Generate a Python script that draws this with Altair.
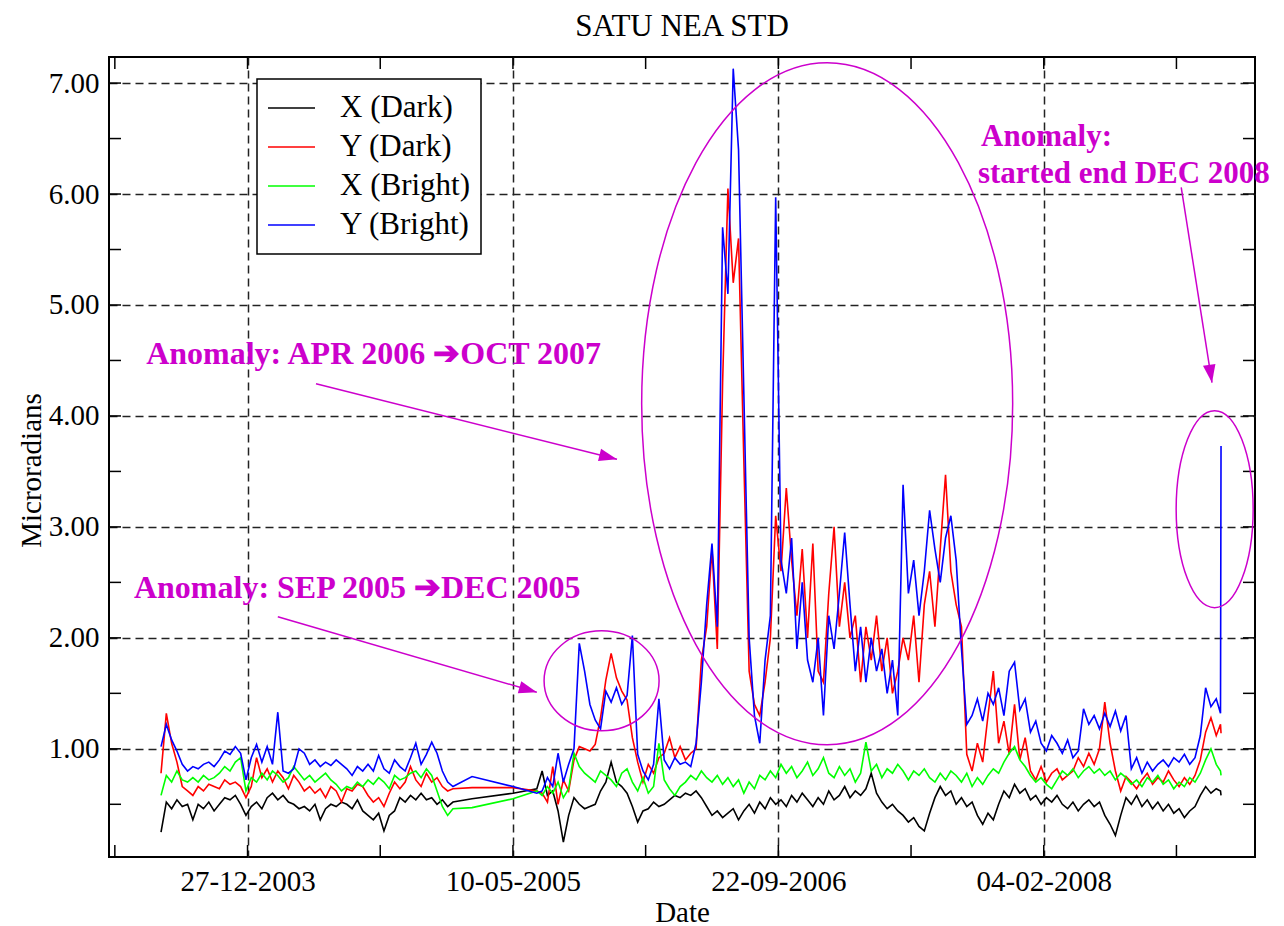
import altair as alt
import pandas as pd

# ---------------------------------------------------------------- data
BASE_DATE = "2003-12-27"          # day 0 of the sampling grid
# sample days (offset from 27-12-2003): 10-day sampling, data gap early 2005
DAYS = (list(range(-163, 388, 10)) + [423, 500]
        + list(range(545, 1826, 10)) + [1833, 1834])

SERIES = ["X (Dark)", "Y (Dark)", "X (Bright)", "Y (Bright)"]
COLORS = ["#000000", "#ff0000", "#00ff00", "#0000ff"]

X_DARK = [
    0.25, 0.52, 0.46, 0.54, 0.48, 0.50, 0.36, 0.50, 0.46, 0.52,
    0.44, 0.50, 0.56, 0.54, 0.58, 0.50, 0.40, 0.48, 0.52, 0.46,
    0.56, 0.60, 0.54, 0.58, 0.52, 0.50, 0.46, 0.48, 0.44, 0.50,
    0.36, 0.46, 0.50, 0.48, 0.52, 0.50, 0.46, 0.54, 0.44, 0.40,
    0.36, 0.42, 0.26, 0.40, 0.44, 0.56, 0.52, 0.58, 0.54, 0.60,
    0.54, 0.56, 0.50, 0.54, 0.48, 0.52,
    0.55, 0.60,
    0.64, 0.80, 0.58, 0.62, 0.44, 0.16, 0.40, 0.56, 0.50, 0.46,
    0.48, 0.50, 0.62, 0.70, 0.88, 0.70, 0.66, 0.60, 0.48, 0.34,
    0.44, 0.46, 0.52, 0.48, 0.50, 0.54, 0.58, 0.56, 0.60, 0.58,
    0.62, 0.56, 0.48, 0.40, 0.44, 0.38, 0.42, 0.46, 0.36, 0.44,
    0.50, 0.42, 0.52, 0.46, 0.56, 0.50, 0.54, 0.48, 0.58, 0.52,
    0.60, 0.54, 0.48, 0.56, 0.50, 0.62, 0.54, 0.58, 0.66, 0.56,
    0.62, 0.58, 0.64, 0.78, 0.60, 0.52, 0.46, 0.50, 0.44, 0.40,
    0.34, 0.38, 0.30, 0.26, 0.42, 0.56, 0.66, 0.58, 0.62, 0.50,
    0.56, 0.48, 0.52, 0.40, 0.32, 0.42, 0.36, 0.50, 0.62, 0.56,
    0.68, 0.60, 0.64, 0.54, 0.58, 0.50, 0.56, 0.52, 0.58, 0.50,
    0.46, 0.52, 0.44, 0.50, 0.54, 0.48, 0.52, 0.40, 0.32, 0.22,
    0.40, 0.56, 0.50, 0.58, 0.48, 0.54, 0.46, 0.52, 0.44, 0.50,
    0.42, 0.46, 0.38, 0.44, 0.48, 0.58, 0.66, 0.60, 0.64,
    0.62, 0.58,
]

Y_DARK = [
    0.78, 1.32, 1.05, 0.88, 0.66, 0.62, 0.58, 0.66, 0.62, 0.68,
    0.66, 0.64, 0.72, 0.68, 0.70, 0.66, 0.56, 0.66, 0.92, 0.74,
    0.82, 0.70, 0.80, 0.74, 0.64, 0.76, 0.70, 0.62, 0.66, 0.60,
    0.64, 0.56, 0.66, 0.62, 0.52, 0.64, 0.62, 0.68, 0.66, 0.58,
    0.52, 0.56, 0.48, 0.60, 0.70, 0.64, 0.70, 0.84, 0.72, 0.66,
    0.78, 0.70, 0.74, 0.66, 0.62, 0.64,
    0.65, 0.65,
    0.62, 0.60, 0.52, 0.84, 0.50, 0.72, 0.62, 0.90, 1.02, 1.00,
    0.98, 1.04, 1.28, 1.62, 1.86, 1.64, 1.52, 1.44, 1.10, 0.88,
    0.70, 0.86, 0.78, 0.92, 0.96, 1.10, 0.92, 1.02, 0.90, 0.96,
    1.00, 1.80, 2.10, 2.80, 1.90, 4.30, 6.05, 5.20, 5.60, 3.60,
    1.70, 1.40, 1.30, 1.60, 2.00, 3.10, 2.60, 3.35, 2.70, 2.20,
    2.80, 2.00, 2.85, 1.70, 1.60, 2.40, 3.00, 2.10, 2.50, 2.00,
    2.20, 1.60, 2.10, 1.80, 2.20, 1.70, 2.00, 1.50, 1.70, 2.00,
    1.80, 2.20, 1.60, 2.30, 2.60, 2.10, 2.80, 3.47, 2.60, 2.30,
    2.10, 0.95, 0.80, 1.05, 0.88, 1.30, 1.70, 1.05, 1.25, 0.95,
    1.40, 0.90, 1.10, 0.80, 0.72, 0.84, 0.70, 0.78, 0.82, 0.72,
    0.76, 0.80, 0.92, 0.84, 0.96, 0.86, 1.00, 1.42, 1.05, 0.80,
    0.62, 0.75, 0.70, 0.64, 0.72, 0.78, 0.68, 0.74, 0.70, 0.80,
    0.72, 0.66, 0.74, 0.68, 0.76, 0.90, 1.15, 1.28, 1.12,
    1.22, 1.14,
]

X_BRIGHT = [
    0.58, 0.76, 0.70, 0.80, 0.72, 0.70, 0.74, 0.70, 0.76, 0.72,
    0.74, 0.78, 0.84, 0.80, 0.88, 0.92, 0.62, 0.74, 0.70, 0.78,
    0.72, 0.80, 0.76, 0.70, 0.74, 0.84, 0.78, 0.72, 0.76, 0.70,
    0.74, 0.78, 0.72, 0.68, 0.62, 0.66, 0.64, 0.70, 0.66, 0.72,
    0.68, 0.74, 0.70, 0.64, 0.76, 0.72, 0.74, 0.78, 0.80, 0.74,
    0.82, 0.76, 0.62, 0.48, 0.40, 0.46,
    0.47, 0.55,
    0.62, 0.58, 0.66, 0.60, 0.70, 0.56, 0.64, 0.96, 0.84, 0.78,
    0.74, 0.70, 0.80, 0.76, 0.72, 0.66, 0.78, 0.82, 0.70, 0.62,
    0.74, 0.60, 0.66, 1.05, 0.72, 0.64, 0.58, 0.66, 0.70, 0.76,
    0.72, 0.80, 0.74, 0.70, 0.76, 0.68, 0.74, 0.66, 0.72, 0.60,
    0.70, 0.64, 0.76, 0.72, 0.80, 0.74, 0.86, 0.78, 0.84, 0.74,
    0.80, 0.88, 0.76, 0.82, 0.92, 0.78, 0.74, 0.84, 0.76, 0.82,
    0.70, 0.78, 1.06, 0.80, 0.86, 0.74, 0.82, 0.78, 0.86, 0.80,
    0.72, 0.80, 0.76, 0.82, 0.74, 0.70, 0.78, 0.72, 0.80, 0.76,
    0.70, 0.78, 0.66, 0.74, 0.68, 0.76, 0.82, 0.78, 0.88, 0.96,
    1.02, 0.90, 0.84, 0.76, 0.70, 0.74, 0.68, 0.64, 0.72, 0.80,
    0.76, 0.82, 0.74, 0.80, 0.84, 0.78, 0.82, 0.76, 0.80, 0.72,
    0.78, 0.74, 0.68, 0.72, 0.66, 0.74, 0.70, 0.76, 0.68, 0.72,
    0.64, 0.70, 0.66, 0.74, 0.70, 0.78, 0.90, 1.00, 0.86,
    0.80, 0.76,
]

Y_BRIGHT = [
    1.02, 1.22, 1.08, 0.98, 0.86, 0.80, 0.84, 0.82, 0.86, 0.88,
    0.84, 0.90, 0.98, 0.95, 1.02, 0.96, 0.72, 0.92, 1.04, 0.88,
    1.02, 0.86, 1.33, 0.80, 0.78, 0.82, 1.00, 0.96, 0.86, 0.90,
    0.84, 0.88, 0.85, 0.90, 0.86, 0.82, 0.76, 0.84, 0.80, 0.86,
    0.80, 0.94, 0.82, 0.78, 0.90, 0.84, 0.80, 0.92, 1.05, 0.86,
    0.95, 1.06, 0.96, 0.80, 0.70, 0.66,
    0.75, 0.66,
    0.60, 0.62, 0.74, 0.66, 0.96, 0.70, 0.86, 1.00, 1.95, 1.70,
    1.40, 1.26, 1.18, 1.52, 1.42, 1.55, 1.40, 1.48, 2.02, 0.95,
    0.80, 0.72, 0.86, 1.45, 0.90, 0.82, 0.92, 0.86, 0.88, 0.84,
    1.05, 1.60, 2.30, 2.85, 2.10, 5.70, 5.10, 7.13, 6.40, 4.20,
    2.00, 1.30, 1.05, 1.80, 2.20, 5.97, 2.70, 2.40, 2.90, 1.90,
    2.50, 1.80, 1.60, 2.00, 1.30, 2.20, 1.90, 2.40, 2.95, 2.30,
    1.70, 2.10, 1.60, 2.00, 1.70, 1.90, 1.50, 1.80, 1.30, 3.38,
    2.40, 2.70, 2.20, 2.60, 3.15, 2.80, 2.50, 2.90, 3.10, 2.70,
    1.90, 1.22, 1.30, 1.45, 1.25, 1.50, 1.40, 1.55, 1.30, 1.70,
    1.78, 1.35, 1.45, 1.15, 1.25, 1.05, 0.98, 1.12, 1.05, 0.96,
    1.08, 0.92, 0.98, 1.36, 1.22, 1.30, 1.18, 1.32, 1.20, 1.34,
    1.16, 1.30, 0.82, 0.92, 0.78, 0.88, 0.80, 0.86, 0.90, 0.84,
    0.92, 0.88, 0.95, 0.86, 0.92, 1.12, 1.55, 1.38, 1.45,
    1.32, 3.73,
]

# axes
X_DOMAIN_DAYS = [-261, 1898]
X_TICK_DAYS = [-250, 0, 250, 500, 750, 1000, 1250, 1500, 1750]
X_LABEL_DAYS = [0, 500, 1000, 1500]
Y_DOMAIN = [0.025, 7.235]
Y_TICKS = [0.5, 1, 1.5, 2, 2.5, 3, 3.5, 4, 4.5, 5, 5.5, 6, 6.5, 7]
Y_LABELS = [1, 2, 3, 4, 5, 6, 7]

TITLE = "SATU NEA STD"

# annotations (positions in data units: day offset, microradians)
MAGENTA = "#cc00cc"
NOTE_TEXT = ["Anomaly: APR 2006 \u2794OCT 2007", "Anomaly: SEP 2005 \u2794DEC 2005"]
NOTE_DAYS = [-191, -214]
NOTE_VALUES = [4.47, 2.36]
NOTE2_TEXT = ["Anomaly:", "started end DEC 2008"]
NOTE2_DAYS = [1382, 1376]
NOTE2_VALUES = [6.435, 6.10]

ARROW_FROM_DAYS = [129, 57, 1759]
ARROW_FROM_VALUES = [4.29, 2.19, 6.06]
ARROW_TO_DAYS = [696, 545, 1817]
ARROW_TO_VALUES = [3.61, 1.51, 4.30]
ARROW_ANGLES = [14, 16, 81]

ELLIPSE_DAYS = [667, 1092, 1822]
ELLIPSE_VALUES = [1.613, 4.11, 3.16]
ELLIPSE_RX = [57.5, 185.5, 38.5]
ELLIPSE_RY = [50, 341, 98.5]

# ---------------------------------------------------------------- helpers
W, H = 1146, 800
FONT = "Liberation Serif"


def day_ts(d):
    return pd.Timestamp(BASE_DATE) + pd.Timedelta(days=d)


def day_iso(d):
    return day_ts(d).strftime("%Y-%m-%d")


def day_dt(d):
    t = day_ts(d)
    return alt.DateTime(year=t.year, month=t.month, date=t.day, utc=True)


def ellipse_path(rx, ry):
    a = rx / ry
    k = 0.5523
    return (f"M{a},0 C{a},{k} {a*k},1 0,1 C{-a*k},1 {-a},{k} {-a},0 "
            f"C{-a},{-k} {-a*k},-1 0,-1 C{a*k},-1 {a},{-k} {a},0 Z")


X_SCALE = alt.Scale(type="utc", domain=[day_dt(d) for d in X_DOMAIN_DAYS])
Y_SCALE = alt.Scale(domain=Y_DOMAIN, zero=False, nice=False)
COLOR_SCALE = alt.Scale(domain=SERIES, range=COLORS)

X_AXIS = alt.Axis(
    values=[day_dt(d) for d in X_LABEL_DAYS],
    labelExpr="utcFormat(datum.value, '%d-%m-%Y')",
    labelFont=FONT, labelFontSize=29, labelColor="black", labelPadding=10,
    labelFlush=False, labelOverlap=False, ticks=False, domain=False,
    grid=True, gridDash=[8, 5], gridColor="#222222", gridWidth=1.5, gridOpacity=1,
    title="Date", titleFont=FONT, titleFontSize=29, titleFontWeight="normal",
    titleColor="black", titleY=64, titleBaseline="alphabetic",
)
Y_AXIS = alt.Axis(
    values=Y_LABELS, format=".2f",
    labelFont=FONT, labelFontSize=29, labelColor="black", labelPadding=10,
    ticks=False, domain=False,
    grid=True, gridDash=[8, 5], gridColor="#222222", gridWidth=1.5, gridOpacity=1,
    title="Microradians", titleFont=FONT, titleFontSize=29, titleFontWeight="normal",
    titleColor="black", titleX=-69, titleY=413, titleBaseline="alphabetic",
    titleAlign="center",
)
LEGEND = alt.Legend(
    title=None, orient="none", legendX=148, legendY=22,
    symbolType="stroke", symbolSize=2209, symbolStrokeWidth=1.5,
    labelFont=FONT, labelFontSize=31, labelColor="black", labelOffset=24,
    padding=10, clipHeight=38, rowPadding=1,
    strokeColor="black", fillColor="white",
)

xenc = alt.X("date:T", scale=X_SCALE, axis=X_AXIS)
yenc = alt.Y("value:Q", scale=Y_SCALE, axis=Y_AXIS)

# ---------------------------------------------------------------- layers
layers = []
for name, vals in zip(SERIES, [X_DARK, Y_DARK, X_BRIGHT, Y_BRIGHT]):
    df = pd.DataFrame({"date": [day_iso(d) for d in DAYS], "value": vals, "series": name})
    layers.append(
        alt.Chart(df).mark_line(strokeWidth=1.6).encode(
            x=xenc, y=yenc,
            color=alt.Color("series:N", scale=COLOR_SCALE, legend=LEGEND),
        )
    )

yt = pd.DataFrame({"value": Y_TICKS})
xt = pd.DataFrame({"date": [day_iso(d) for d in X_TICK_DAYS]})
tick_style = dict(color="black", strokeWidth=1.5)
layers += [
    alt.Chart(yt).mark_rule(**tick_style).encode(y=yenc, x=alt.value(0), x2=alt.value(12)),
    alt.Chart(yt).mark_rule(**tick_style).encode(y=yenc, x=alt.value(W - 12), x2=alt.value(W)),
    alt.Chart(xt).mark_rule(**tick_style).encode(x=xenc, y=alt.value(H - 12), y2=alt.value(H)),
    alt.Chart(xt).mark_rule(**tick_style).encode(x=xenc, y=alt.value(0), y2=alt.value(12)),
]

# ellipses
for d, v, rx, ry in zip(ELLIPSE_DAYS, ELLIPSE_VALUES, ELLIPSE_RX, ELLIPSE_RY):
    edf = pd.DataFrame({"date": [day_iso(d)], "value": [v]})
    layers.append(
        alt.Chart(edf).mark_point(
            shape=ellipse_path(rx, ry), size=(2 * ry) ** 2, filled=False,
            color=MAGENTA, strokeWidth=1.5, opacity=1,
        ).encode(x=xenc, y=yenc)
    )

# arrows
adf = pd.DataFrame({
    "date": [day_iso(d) for d in ARROW_FROM_DAYS], "value": ARROW_FROM_VALUES,
    "date2": [day_iso(d) for d in ARROW_TO_DAYS], "value2": ARROW_TO_VALUES,
})
layers.append(
    alt.Chart(adf).mark_rule(color=MAGENTA, strokeWidth=1.5).encode(
        x=xenc, y=yenc, x2="date2:T", y2="value2:Q")
)
for d, v, ang in zip(ARROW_TO_DAYS, ARROW_TO_VALUES, ARROW_ANGLES):
    hdf = pd.DataFrame({"date": [day_iso(d)], "value": [v]})
    layers.append(
        alt.Chart(hdf).mark_point(
            shape="M0,0 L-2,-0.7 L-2,0.7 Z", size=324, filled=True,
            color=MAGENTA, opacity=1, angle=ang,
        ).encode(x=xenc, y=yenc)
    )

# notes
for texts, days, vals, fs in [(NOTE_TEXT, NOTE_DAYS, NOTE_VALUES, 32),
                              (NOTE2_TEXT, NOTE2_DAYS, NOTE2_VALUES, 31)]:
    ndf = pd.DataFrame({"date": [day_iso(d) for d in days], "value": vals, "label": texts})
    layers.append(
        alt.Chart(ndf).mark_text(
            align="left", baseline="alphabetic", font=FONT, fontSize=fs,
            fontWeight="bold", color=MAGENTA,
        ).encode(x=xenc, y=yenc, text="label:N")
    )

# chart title, centred above the frame
layers.append(
    alt.Chart(pd.DataFrame({"label": [TITLE]})).mark_text(
        align="center", baseline="alphabetic", font=FONT, fontSize=31,
        color="black",
    ).encode(x=alt.value(W / 2), y=alt.value(-21), text="label:N")
)

chart = alt.layer(*layers).properties(
    width=W, height=H,
    autosize=alt.AutoSizeParams(type="none"),
    padding={"left": 101, "top": 49, "right": 20, "bottom": 69},
).configure_view(stroke="black", strokeWidth=2).configure_legend(strokeWidth=1.5)

chart.save("out.html", embed_options={"renderer": "svg", "actions": False})
